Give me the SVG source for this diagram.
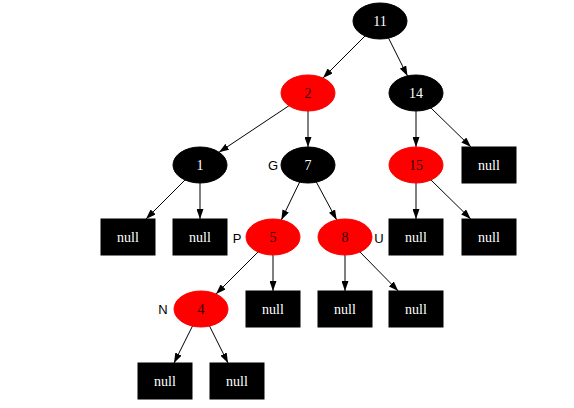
<svg xmlns="http://www.w3.org/2000/svg" width="574" height="408" viewBox="0 0 574 408">
<style>
.b ellipse{fill:#000;stroke:#000}
.r ellipse{fill:#ff0000;stroke:#ff0000}
.n rect{fill:#000;stroke:#000}
.t{font-family:"Liberation Serif",serif;font-size:14px;text-anchor:middle;dominant-baseline:central}
.b .t,.n .t{fill:#fff}
.r .t{fill:#2a0000}
.lab{font-family:"Liberation Sans",sans-serif;font-size:13px;text-anchor:middle;dominant-baseline:central;fill:#000}
#edges line{stroke:#000;stroke-width:1;marker-end:url(#arr)}
</style>
<defs>
<marker id="arr" markerUnits="userSpaceOnUse" markerWidth="10" markerHeight="7" refX="10" refY="3.5" orient="auto">
<path d="M0,0 L10,3.5 L0,7 z" fill="#000"/>
</marker>
</defs>
<rect width="574" height="408" fill="#fff"/>
<g id="edges">
<line x1="365" y1="36" x2="323" y2="78"/>
<line x1="388.5" y1="38" x2="407.5" y2="76"/>
<line x1="289" y1="105.7" x2="219" y2="152.3"/>
<line x1="308" y1="111" x2="308" y2="147"/>
<line x1="416" y1="111" x2="416" y2="147"/>
<line x1="431" y1="108" x2="471" y2="147"/>
<line x1="185" y1="180" x2="146" y2="219"/>
<line x1="200" y1="183" x2="200" y2="219"/>
<line x1="299.7" y1="182" x2="281.3" y2="219.9"/>
<line x1="316.3" y1="182" x2="336.7" y2="219.9"/>
<line x1="416" y1="183" x2="416" y2="219"/>
<line x1="431" y1="180" x2="470.75" y2="219"/>
<line x1="258" y1="252" x2="216" y2="294"/>
<line x1="273" y1="255" x2="273" y2="291"/>
<line x1="345" y1="255" x2="345" y2="291"/>
<line x1="360" y1="252" x2="398.25" y2="291"/>
<line x1="192.5" y1="326" x2="174" y2="363"/>
<line x1="209.5" y1="326" x2="228" y2="363"/>
</g>
<g id="n11" class="b"><ellipse cx="380" cy="21" rx="27" ry="18"/><text class="t" x="380" y="21">11</text></g>
<g id="n2" class="r"><ellipse cx="308" cy="93" rx="27" ry="18"/><text class="t" x="308" y="93">2</text></g>
<g id="n14" class="b"><ellipse cx="416" cy="93" rx="27" ry="18"/><text class="t" x="416" y="93">14</text></g>
<g id="n1" class="b"><ellipse cx="200" cy="165" rx="27" ry="18"/><text class="t" x="200" y="165">1</text></g>
<g id="n7" class="b"><ellipse cx="308" cy="165" rx="27" ry="18"/><text class="t" x="308" y="165">7</text><text class="lab" x="273" y="165">G</text></g>
<g id="n15" class="r"><ellipse cx="416" cy="165" rx="27" ry="18"/><text class="t" x="416" y="165">15</text></g>
<g id="null14r" class="n"><rect x="462" y="147" width="54" height="36"/><text class="t" x="489" y="165">null</text></g>
<g id="null1l" class="n"><rect x="101" y="219" width="54" height="36"/><text class="t" x="128" y="237">null</text></g>
<g id="null1r" class="n"><rect x="173" y="219" width="54" height="36"/><text class="t" x="200" y="237">null</text></g>
<g id="n5" class="r"><ellipse cx="273" cy="237" rx="27" ry="18"/><text class="t" x="273" y="237">5</text><text class="lab" x="237" y="238">P</text></g>
<g id="n8" class="r"><ellipse cx="345" cy="237" rx="27" ry="18"/><text class="t" x="345" y="237">8</text><text class="lab" x="379" y="238">U</text></g>
<g id="null15l" class="n"><rect x="389" y="219" width="54" height="36"/><text class="t" x="416" y="237">null</text></g>
<g id="null15r" class="n"><rect x="462" y="219" width="54" height="36"/><text class="t" x="489" y="237">null</text></g>
<g id="n4" class="r"><ellipse cx="201" cy="309" rx="27" ry="18"/><text class="t" x="201" y="309">4</text><text class="lab" x="163" y="309">N</text></g>
<g id="null5r" class="n"><rect x="246" y="291" width="54" height="36"/><text class="t" x="273" y="309">null</text></g>
<g id="null8l" class="n"><rect x="318" y="291" width="54" height="36"/><text class="t" x="345" y="309">null</text></g>
<g id="null8r" class="n"><rect x="389" y="291" width="54" height="36"/><text class="t" x="416" y="309">null</text></g>
<g id="null4l" class="n"><rect x="138" y="363" width="54" height="36"/><text class="t" x="165" y="381">null</text></g>
<g id="null4r" class="n"><rect x="210" y="363" width="54" height="36"/><text class="t" x="237" y="381">null</text></g>
</svg>
